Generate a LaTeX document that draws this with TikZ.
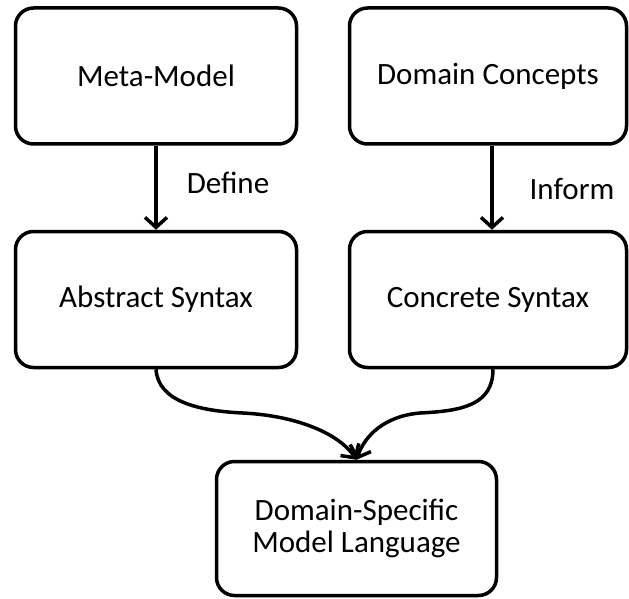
\documentclass[tikz,border=0pt]{standalone}
\usepackage{fontspec}
\setmainfont{Carlito}
\usetikzlibrary{arrows.meta}
\tikzset{
  block/.style={draw, line width=3.5pt, rounded corners=18pt, align=center,
    inner sep=0pt, minimum height=136pt},
  link/.style={line width=3.5pt, -{Straight Barb[length=10pt,width=22pt]}}
}

\begin{document}
\begin{tikzpicture}[x=1pt,y=-1pt,font=\fontsize{31}{32}\selectfont]
  \useasboundingbox (0,0) rectangle (629,599);

  \node (meta) [block, minimum width=281pt] at (156,76) {Meta-Model};
  \node (concepts) [block, minimum width=277pt] at (488,76) {Domain Concepts};
  \node (abstract) [block, minimum width=281pt] at (156,299.5) {Abstract Syntax};
  \node (concrete) [block, minimum width=277pt] at (488,299.5) {Concrete Syntax};
  \node (dsml) [block, minimum width=280pt, minimum height=134pt] at (356.5,528.5)
    {Domain-Specific\\Model Language};

  \node (define) at (228,183) {Define};
  \node (inform) at (572,189) {Inform};

  \draw [link] (meta) -- (abstract);
  \draw [link] (concepts.south -| 492,0) -- (concrete.north -| 492,0);

  % both syntaxes merge into the language
  \draw [link] (abstract.south) .. controls (158,402) and (200,411) .. (243,413)
    .. controls (300,416) and (340,435) .. (dsml.north);
  \draw [link] (concrete.south -| 493,0) .. controls (493,405) and (462,411) .. (420,413)
    .. controls (385,416) and (365,435) .. (dsml.north);
\end{tikzpicture}
\end{document}
